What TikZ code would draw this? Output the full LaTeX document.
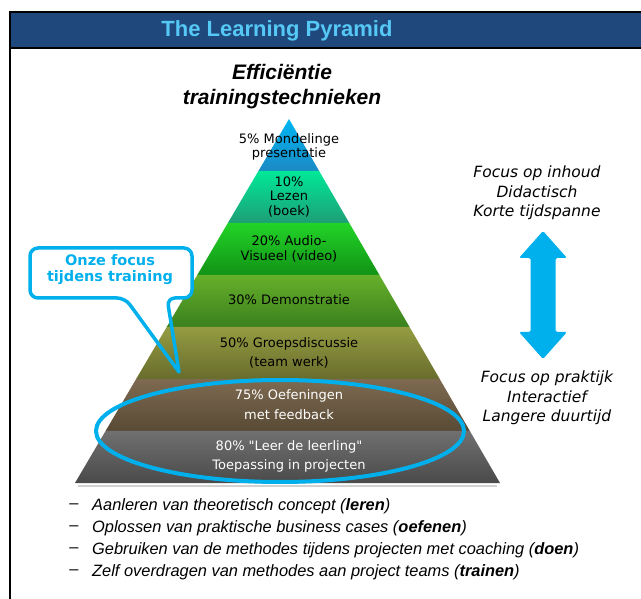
\documentclass[tikz,border=0pt]{standalone}
\usepackage{fontspec}
\setmainfont{Liberation Sans}
\newfontfamily\pyrfont{DejaVu Sans}
\usetikzlibrary{
    calc,
    positioning,
}

\definecolor{titlebar}{RGB}{31,73,125}
\definecolor{titletext}{RGB}{85,200,245}
\definecolor{focusblue}{RGB}{0,176,236}
% band colours, top / bottom
\definecolor{bandAt}{RGB}{0,182,242}
\definecolor{bandAb}{RGB}{28,138,196}
\definecolor{bandBt}{RGB}{0,232,152}
\definecolor{bandBb}{RGB}{30,158,118}
\definecolor{bandCt}{RGB}{34,212,40}
\definecolor{bandCb}{RGB}{18,146,22}
\definecolor{bandDt}{RGB}{102,176,42}
\definecolor{bandDb}{RGB}{58,128,30}
\definecolor{bandEt}{RGB}{148,156,66}
\definecolor{bandEb}{RGB}{104,108,44}
\definecolor{bandFt}{RGB}{126,106,80}
\definecolor{bandFb}{RGB}{88,74,54}
\definecolor{bandGt}{RGB}{112,112,112}
\definecolor{bandGb}{RGB}{74,74,74}

\begin{document}
\begin{tikzpicture}[
    x=1pt, y=-1pt,
    band/.style={font=\pyrfont\fontsize{13}{14.5}\selectfont, align=center, inner sep=0pt},
    bandwide/.style={band, font=\pyrfont\fontsize{13}{19.5}\selectfont},
    heading/.style={font=\bfseries\itshape\fontsize{21}{25}\selectfont, align=center},
    sidetext/.style={font=\pyrfont\itshape\fontsize{15.5}{19.5}\selectfont, align=center},
    callouttext/.style={font=\pyrfont\bfseries\fontsize{14.5}{16}\selectfont, text=focusblue, align=center},
    item/.style={font=\itshape\fontsize{16.4}{19}\selectfont, anchor=west, inner sep=0pt},
    itemdash/.style={font=\fontsize{16.4}{19}\selectfont, inner sep=0pt},
]
\useasboundingbox (0,0) rectangle (641,599);

% frame and title bar
\fill[titlebar] (10,13) rectangle (641,47);
\draw[line width=2.5] (10,599) -- (10,12) -- (641,12);
\draw[line width=2.5] (10,48) -- (641,48);
\node[font=\bfseries\fontsize{22}{26}\selectfont, text=titletext] (title) at (277,31) {The Learning Pyramid};

\node[heading] (efficiency) at (282,87) {Efficiëntie\\trainingstechnieken};

% pyramid
\coordinate (apex) at (289,119);
\coordinate (bl) at (75,483);
\coordinate (br) at (500,483);
\draw[black!18, line width=2] (78,485.5) -- (497,485.5);
\foreach \k/\ct/\cb in {0/bandAt/bandAb, 1/bandBt/bandBb, 2/bandCt/bandCb, 3/bandDt/bandDb,
                        4/bandEt/bandEb, 5/bandFt/bandFb, 6/bandGt/bandGb} {
    \pgfmathsetmacro\ta{\k/7}
    \pgfmathsetmacro\tb{(\k+1)/7}
    \shade[top color=\ct, bottom color=\cb] ($(apex)!\ta!(bl)$) -- ($(apex)!\ta!(br)$)
        -- ($(apex)!\tb!(br)$) -- ($(apex)!\tb!(bl)$) -- cycle;
}

\node[band] (mondeling) at (289,147) {5\% Mondelinge\\presentatie};
\node[band] (lezen) at (289,197) {10\%\\Lezen\\(boek)};
\node[band] (audio) at (289,249) {20\% Audio-\\Visueel (video)};
\node[band] (demo) at (289,300) {30\% Demonstratie};
\node[bandwide] (groep) at (289,353) {50\% Groepsdiscussie\\(team werk)};
\node[bandwide, text=white] (oefen) at (289,404.5) {75\% Oefeningen\\met feedback};
\node[bandwide, text=white] (leerling) at (289,456.5) {80\% "Leer de leerling"\\Toepassing in projecten};

\draw[focusblue, line width=4] (280,431) ellipse [x radius=184, y radius=51];

% callout
\fill[white, rounded corners=8] (30,248) rectangle (192,298);
\draw[focusblue, line width=3.5, rounded corners=8, line cap=round, line join=round]
    (179,372) -- (125,298) -- (30,298) -- (30,248) -- (192,248) -- (192,298) -- (167,298) -- (179,372);
\node[callouttext] (focus) at (110,270) {Onze focus\\tijdens training};

% right side
\node[sidetext] (inhoud) at (537,193) {Focus op inhoud\\Didactisch\\Korte tijdspanne};
\node[sidetext] (praktijk) at (547,398) {Focus op praktijk\\Interactief\\Langere duurtijd};
\fill[focusblue, rounded corners=1.5] (543,231) -- (567,258) -- (555.5,258) -- (555.5,332)
    -- (567,332) -- (543,359) -- (519,332) -- (530.5,332) -- (530.5,258) -- (519,258) -- cycle;

% list
\node[itemdash] (d1) at (74,506) {–};
\node[itemdash] (d2) at (74,528) {–};
\node[itemdash] (d3) at (74,550) {–};
\node[itemdash] (d4) at (74,572) {–};
\node[item] (leren) at (92,506) {Aanleren van theoretisch concept (\textbf{leren})};
\node[item] (oefenen) at (92,528) {Oplossen van praktische business cases (\textbf{oefenen})};
\node[item] (doen) at (92,550) {Gebruiken van de methodes tijdens projecten met coaching (\textbf{doen})};
\node[item] (trainen) at (92,572) {Zelf overdragen van methodes aan project teams (\textbf{trainen})};

\end{tikzpicture}
\end{document}
